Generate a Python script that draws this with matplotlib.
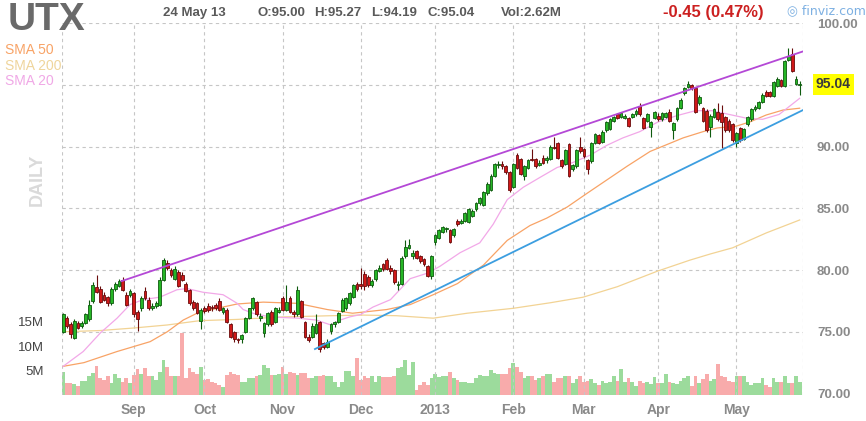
import matplotlib
matplotlib.use('Agg')
import matplotlib.pyplot as plt
import matplotlib.transforms as mtransforms
import numpy as np

plt.rcParams['font.family'] = ['Liberation Sans', 'DejaVu Sans']

# daily OHLC (7 Aug 2012 .. 24 May 2013)
opens = [
    75.0, 76.1, 75.6, 74.5, 75.7, 75.5, 75.7, 76.0, 77.5, 78.6,
    78.5, 78.0, 77.8, 77.3, 78.5, 78.7, 79.2, 78.0, 78.0, 78.1,
    76.6, 76.9, 78.3, 77.6, 76.9, 77.1, 77.2, 79.2, 80.6, 80.0,
    79.3, 79.8, 79.6, 78.9, 78.4, 77.4, 77.3, 75.9, 76.9, 77.1,
    77.0, 77.2, 77.5, 76.6, 76.8, 75.6, 75.0, 74.4, 74.4, 75.0,
    76.1, 76.9, 77.4, 76.1, 74.9, 75.6, 76.6, 75.8, 76.6, 77.7,
    76.8, 77.7, 76.6, 76.4, 77.5, 75.8, 74.6, 74.6, 74.9, 75.8,
    74.1, 73.8, 75.1, 75.6, 75.8, 76.7, 76.9, 77.3, 77.8, 78.9,
    78.9, 79.7, 79.4, 78.8, 79.3, 79.9, 80.5, 80.8, 80.2, 80.0,
    78.8, 78.9, 81.1, 81.8, 81.1, 81.5, 81.1, 80.9, 80.3, 79.5,
    82.3, 82.6, 83.1, 83.3, 83.2, 82.8, 84.0, 83.8, 84.0, 83.9,
    84.4, 84.9, 85.4, 85.3, 86.2, 86.5, 87.6, 88.5, 88.6, 88.4,
    87.9, 86.7, 89.3, 89.0, 87.6, 88.3, 89.0, 89.0, 88.5, 89.1,
    88.9, 89.0, 90.0, 90.3, 88.9, 88.6, 90.2, 88.2, 88.4, 90.0,
    89.8, 88.9, 88.8, 90.3, 90.9, 90.4, 91.3, 91.4, 92.1, 92.6,
    92.4, 92.3, 92.3, 92.4, 92.6, 93.3, 92.3, 92.1, 91.6, 92.3,
    92.5, 92.2, 92.4, 92.8, 91.3, 92.2, 93.1, 94.3, 94.8, 95.0,
    94.7, 93.5, 93.1, 92.9, 91.6, 92.4, 92.8, 92.7, 92.4, 92.1,
    91.8, 90.3, 91.5, 90.6, 91.8, 92.2, 93.0, 93.1, 93.6, 94.4,
    94.4, 94.1, 94.9, 95.4, 94.9, 97.0, 97.5, 95.1, 95.00,
]
highs = [
    76.5, 76.3, 75.8, 76.0, 75.9, 75.9, 76.5, 77.6, 79.0, 79.6,
    78.7, 78.2, 77.9, 78.6, 79.0, 79.3, 79.4, 78.2, 78.5, 78.2,
    76.8, 77.9, 78.6, 77.8, 77.3, 77.5, 79.4, 81.0, 80.8, 80.2,
    80.3, 80.0, 79.8, 79.0, 78.5, 77.6, 77.4, 76.9, 77.1, 77.3,
    77.2, 77.3, 77.7, 77.0, 76.9, 75.7, 75.1, 74.5, 74.8, 76.2,
    76.9, 77.8, 77.5, 76.5, 75.8, 76.6, 76.8, 77.0, 77.0, 77.9,
    78.8, 77.9, 76.8, 78.7, 77.6, 75.9, 74.8, 75.7, 76.4, 75.9,
    74.2, 74.4, 75.7, 75.9, 76.6, 77.7, 77.8, 78.2, 78.9, 79.0,
    80.2, 79.9, 79.6, 79.3, 80.1, 80.4, 80.6, 81.0, 80.4, 80.1,
    79.1, 81.1, 82.4, 82.5, 81.6, 81.6, 81.2, 81.0, 80.4, 81.2,
    82.9, 83.3, 83.6, 83.5, 83.3, 83.4, 84.1, 84.1, 84.7, 85.0,
    84.9, 85.5, 85.9, 86.4, 87.1, 87.8, 88.7, 88.8, 88.8, 88.5,
    88.0, 88.7, 89.5, 89.1, 88.5, 89.0, 89.8, 89.1, 88.9, 89.3,
    89.2, 90.1, 90.8, 90.4, 89.0, 89.8, 90.3, 88.6, 89.8, 90.8,
    89.9, 89.0, 90.4, 91.1, 91.0, 91.3, 92.1, 92.3, 92.5, 92.7,
    92.8, 92.6, 92.4, 92.7, 93.0, 93.5, 92.4, 92.7, 92.1, 92.9,
    92.7, 92.8, 92.8, 93.0, 92.0, 93.2, 93.9, 94.8, 95.3, 95.1,
    94.8, 94.2, 93.2, 93.0, 92.6, 93.1, 93.5, 93.4, 92.5, 92.2,
    91.9, 91.2, 91.6, 91.5, 92.5, 93.1, 93.4, 93.7, 94.3, 94.6,
    94.5, 95.3, 95.6, 95.5, 97.0, 98.0, 98.0, 95.7, 95.27,
]
lows = [
    74.9, 75.3, 74.5, 74.4, 75.2, 75.3, 75.6, 75.9, 77.3, 78.1,
    77.3, 77.5, 77.1, 77.2, 78.3, 78.6, 78.3, 77.1, 77.8, 76.2,
    75.1, 76.7, 77.6, 76.8, 76.8, 76.9, 77.1, 79.1, 80.0, 79.4,
    79.2, 78.6, 79.1, 78.2, 77.2, 76.8, 76.4, 75.2, 76.5, 76.6,
    76.7, 76.8, 76.7, 76.4, 75.7, 74.5, 74.2, 74.1, 74.1, 74.9,
    76.0, 76.8, 76.3, 75.9, 74.6, 75.5, 75.5, 75.7, 76.5, 76.7,
    76.7, 76.5, 76.2, 76.3, 76.1, 74.5, 74.2, 74.5, 74.8, 73.4,
    73.6, 73.7, 74.8, 75.4, 75.7, 76.6, 76.8, 77.2, 77.7, 78.3,
    78.5, 78.4, 78.6, 78.6, 79.1, 79.8, 79.9, 80.0, 79.7, 78.9,
    78.4, 78.8, 81.0, 81.7, 80.9, 80.9, 80.6, 80.3, 79.4, 79.3,
    82.0, 82.5, 83.0, 83.1, 82.2, 82.7, 83.6, 83.7, 83.9, 83.8,
    84.3, 84.8, 85.3, 85.2, 86.1, 86.4, 87.5, 88.3, 88.2, 87.8,
    86.3, 86.6, 88.2, 87.7, 87.3, 88.2, 88.8, 88.3, 88.4, 88.6,
    88.7, 88.9, 89.8, 89.0, 88.3, 88.5, 87.5, 88.0, 88.3, 89.5,
    89.1, 87.8, 88.7, 90.2, 90.2, 90.3, 91.2, 91.3, 92.0, 92.2,
    92.3, 92.2, 91.6, 92.3, 92.5, 92.5, 91.4, 92.0, 90.8, 92.2,
    92.1, 92.1, 92.3, 92.0, 90.6, 92.1, 93.0, 94.2, 94.7, 94.6,
    92.7, 93.4, 92.0, 91.2, 90.8, 92.3, 92.1, 89.9, 91.2, 91.2,
    90.4, 90.0, 90.4, 90.5, 91.7, 92.1, 92.9, 93.0, 93.5, 94.0,
    94.0, 94.0, 94.8, 94.8, 94.8, 96.9, 96.0, 95.0, 94.19,
]
closes = [
    76.4, 75.5, 74.8, 75.9, 75.3, 75.7, 76.4, 77.2, 78.8, 78.2,
    77.4, 77.6, 77.3, 78.5, 78.9, 79.1, 78.4, 77.2, 78.3, 76.4,
    76.0, 77.7, 77.7, 76.9, 77.1, 77.3, 79.2, 80.8, 80.2, 79.6,
    80.1, 78.7, 79.2, 78.3, 77.3, 76.9, 76.5, 76.8, 76.7, 76.8,
    76.9, 76.9, 76.8, 76.9, 75.8, 74.6, 74.4, 74.3, 74.7, 76.1,
    76.9, 77.7, 76.4, 76.3, 75.7, 76.5, 75.6, 76.9, 76.8, 76.8,
    77.4, 76.6, 76.4, 78.4, 76.2, 74.6, 74.3, 75.5, 75.6, 73.6,
    73.8, 74.2, 75.6, 75.8, 76.5, 77.6, 77.7, 78.1, 78.8, 78.5,
    78.7, 78.7, 78.8, 79.1, 80.0, 80.2, 80.1, 80.1, 79.9, 79.0,
    78.9, 81.0, 81.9, 82.0, 81.4, 81.0, 80.7, 80.5, 79.5, 81.1,
    82.8, 83.2, 83.5, 83.4, 82.3, 83.3, 83.7, 84.0, 84.6, 84.9,
    84.8, 85.4, 85.8, 86.3, 87.0, 87.6, 88.6, 88.6, 88.4, 87.9,
    86.5, 88.6, 88.3, 87.8, 88.4, 88.9, 88.9, 88.4, 88.7, 88.7,
    89.1, 90.0, 89.9, 89.1, 88.4, 89.7, 87.6, 88.5, 89.7, 89.6,
    89.2, 88.2, 90.3, 91.0, 90.3, 91.2, 92.0, 92.2, 92.4, 92.3,
    92.7, 92.5, 91.7, 92.6, 92.9, 92.6, 91.5, 92.6, 92.0, 92.8,
    92.2, 92.7, 92.7, 92.1, 91.9, 93.1, 93.8, 94.7, 95.1, 94.7,
    92.8, 94.0, 92.1, 91.3, 92.5, 93.0, 92.2, 92.0, 91.3, 91.3,
    90.5, 91.1, 90.5, 91.4, 92.4, 93.0, 93.2, 93.6, 94.2, 94.1,
    94.1, 95.2, 95.5, 94.9, 96.9, 97.3, 96.1, 95.49, 95.04,
]
# volume in millions
volumes = [
    4.8, 2.5, 2.4, 2.2, 1.8, 2.9, 2.9, 3.8, 4.6, 6.0,
    3.4, 3.1, 3.8, 2.4, 4.4, 3.4, 2.7, 3.4, 2.4, 4.1,
    5.3, 4.4, 5.5, 3.9, 3.8, 3.1, 4.8, 7.2, 5.8, 3.8,
    3.9, 3.8, 12.7, 3.4, 5.5, 4.8, 4.4, 5.7, 3.1, 3.2,
    2.7, 2.4, 2.1, 1.7, 4.1, 4.8, 4.3, 4.1, 2.7, 2.7,
    3.4, 3.4, 3.8, 4.1, 6.2, 5.5, 4.1, 4.1, 4.4, 5.8,
    4.4, 4.8, 4.6, 4.2, 4.5, 4.5, 3.4, 3.4, 3.8, 3.8,
    4.1, 3.8, 3.8, 2.6, 1.6, 2.7, 5.0, 5.0, 3.9, 7.5,
    3.1, 3.8, 3.4, 3.8, 2.7, 3.8, 3.6, 3.6, 3.6, 3.8,
    5.5, 5.8, 7.2, 4.1, 6.8, 1.0, 2.0, 2.7, 2.0, 3.4,
    4.3, 3.6, 3.8, 3.8, 4.8, 3.4, 3.1, 2.7, 2.7, 2.4,
    2.4, 3.4, 4.1, 3.8, 3.8, 5.1, 4.5, 4.3, 4.3, 4.3,
    5.5, 6.5, 5.8, 4.8, 3.4, 3.8, 3.8, 3.1, 3.4, 3.8,
    4.3, 4.3, 2.7, 3.4, 3.4, 3.8, 3.8, 2.4, 3.2, 3.8,
    2.7, 2.9, 3.2, 2.4, 2.1, 2.9, 2.5, 2.7, 3.8, 2.9,
    5.3, 2.7, 3.4, 2.7, 1.8, 2.9, 2.4, 2.7, 2.2, 3.6,
    2.5, 2.5, 4.3, 2.7, 2.4, 2.2, 2.9, 3.4, 3.8, 1.8,
    3.8, 2.5, 3.2, 4.3, 2.9, 3.2, 6.3, 4.0, 3.6, 2.9,
    2.7, 4.0, 3.8, 3.8, 2.7, 2.1, 2.4, 2.5, 3.4, 2.1,
    1.7, 3.4, 2.7, 2.7, 4.0, 2.4, 2.4, 4.0, 2.62,
]

# moving averages, read at a few points along each curve (day index, price)
sma20_idx = [0, 5.4, 10, 14.5, 18, 21.5, 26, 30.6, 33.3, 37.6, 43, 46.8, 48.4, 51, 55.6,
             63, 68, 72, 74.5, 77, 80, 83.3, 88, 93.3, 98, 101.3, 106.7, 112, 115.6, 119.4,
             123.7, 128.2, 132.8, 137, 141.7, 146.2, 150.5, 155, 160, 165, 170, 174.5, 179,
             183.6, 188, 192.5, 198]
sma20_val = [72.2, 73.4, 74.9, 76.1, 77.2, 77.6, 77.8, 78.4, 78.5, 78.2, 78.0, 77.3, 76.8, 76.5, 76.2,
             76.1, 75.95, 75.55, 75.95, 76.2, 76.4, 77.0, 77.6, 79.3, 79.75, 80.3, 81.4, 82.2, 83.7, 85.7,
             86.7, 87.5, 88.3, 88.7, 89.3, 90.1, 90.7, 91.2, 92.0, 92.5, 92.9, 92.9, 92.6,
             92.3, 92.2, 92.6, 93.9]
sma50_idx = [0, 5.6, 14.5, 23.4, 28, 32.3, 36, 41.4, 46.8, 53.8, 63, 71, 77.8, 87, 93.3, 99.5,
             106, 113, 119.4, 125.5, 130, 135.5, 140.8, 146.2, 151.6, 157.8, 166.7, 172, 175.8,
             181, 184.7, 189, 193.5, 198]
sma50_val = [72.2, 72.5, 73.4, 74.2, 75.0, 75.95, 76.5, 76.9, 77.25, 77.4, 77.3, 76.8, 76.5, 76.8, 77.2, 78.0,
             78.9, 80.4, 82.4, 83.6, 84.2, 85.1, 86.2, 87.3, 88.4, 89.6, 90.7, 91.2, 91.5,
             91.65, 92.0, 92.55, 92.95, 93.1]
sma200_idx = [0, 10, 18.8, 28, 36.8, 46.8, 59, 72, 80.7, 89.6, 99.5, 108.6, 121, 131, 139.8,
              149, 159.7, 168.5, 174, 180, 189, 198]
sma200_val = [75.0, 75.1, 75.3, 75.55, 75.9, 76.0, 76.2, 76.3, 76.35, 76.3, 76.1, 76.5, 76.9, 77.35, 77.8,
              78.65, 79.9, 80.8, 81.3, 81.8, 83.0, 84.05]

# hand drawn trend lines (day index, price)
upper_idx = [15.7, 198.9]
upper_val = [79.1, 97.7]
lower_idx = [67.7, 198.9]
lower_val = [73.6, 92.95]

month_pos = [19, 38, 59, 80, 100, 121, 140, 160, 181]
month_labels = ['Sep', 'Oct', 'Nov', 'Dec', '2013', 'Feb', 'Mar', 'Apr', 'May']
price_grid = [75, 80, 85, 90, 95, 100]
price_labels = [70, 75, 80, 85, 90, 100]
vol_ticks = [5, 10, 15]

GRID = '#c6c6c6'

fig = plt.figure(figsize=(8.66, 4.21), dpi=100)
ax = fig.add_axes([62 / 866, 1 - 395 / 421, 741 / 866, 372 / 421])
vax = ax.twinx()
ax.set_zorder(2)
vax.set_zorder(1)
ax.patch.set_visible(False)

x = np.arange(len(closes))
o = np.array(opens)
c = np.array(closes)
up = c >= o
face = np.where(up, '#26b626', '#d01818')
edge = np.where(up, '#0e5a0e', '#6a0c0c')
vcol = np.where(up, '#9cdb9c', '#f8abab')

# volume
vax.bar(x, volumes, width=1.0, color=vcol, linewidth=0)
vax.set_ylim(0, 76.4)

# grid
for p in price_grid:
    ax.axhline(p, color=GRID, lw=0.8, ls=(0, (3, 3)), zorder=1)
for m in month_pos:
    ax.axvline(m, color=GRID, lw=0.8, ls=(0, (3, 3)), zorder=1)
ax.set_xlim(-0.3, 198.9)
ax.set_ylim(69.88, 100)
for xe in ax.get_xlim():
    ax.axvline(xe, color=GRID, lw=0.8, ls=(0, (3, 3)), zorder=1)

# moving averages
ax.plot(sma200_idx, sma200_val, color='#f2d394', lw=0.9, zorder=2)
ax.plot(sma50_idx, sma50_val, color='#f8a366', lw=0.9, zorder=2)
ax.plot(sma20_idx, sma20_val, color='#f2a8e8', lw=0.9, zorder=2)

# candles
ax.vlines(x, lows, highs, colors=edge, lw=0.8, zorder=3)
body_lo = np.minimum(o, c)
body_h = np.maximum(np.abs(c - o), 0.07)
ax.bar(x, body_h, bottom=body_lo, width=0.75, color=face, edgecolor=edge, linewidth=0.6, zorder=4)

# trend lines
ax.plot(upper_idx, upper_val, color='#b448d6', lw=1.3, zorder=5)
ax.plot(lower_idx, lower_val, color='#3c9ee0', lw=1.3, zorder=5)

for a in (ax, vax):
    for s in a.spines.values():
        s.set_visible(False)

ax.set_xticks(month_pos, month_labels)
ax.tick_params(axis='x', length=0, pad=6, labelsize=10, labelcolor='#8a8a8a')
for t in ax.get_xticklabels():
    t.set_fontweight('bold')

ax.yaxis.tick_right()
ax.set_yticks(price_labels, [f'{p:.2f}' for p in price_labels])
ax.tick_params(axis='y', length=0, pad=10, labelsize=9.5, labelcolor='#8a8a8a')
for t in ax.get_yticklabels():
    t.set_fontweight('bold')

vax.yaxis.tick_left()
vax.set_yticks(vol_ticks, [f'{v}M' for v in vol_ticks])
vax.tick_params(axis='y', length=0, pad=13, labelsize=9.5, labelcolor='#444444')

# last price box
trans = mtransforms.blended_transform_factory(ax.transAxes, ax.transData)
ax.text(1 + 13 / 741, closes[-1], f'{closes[-1]:.2f}', transform=trans, ha='left', va='center',
        fontsize=10, fontweight='bold', color='#3a3a3a',
        bbox=dict(facecolor='#ffff00', edgecolor='none', pad=2.5))

# header
fig.text(8 / 866, 1 - 20 / 421, 'UTX', fontsize=28, fontweight='bold', color='#6a6a6a', va='center')
fig.text(5 / 866, 1 - 50 / 421, 'SMA 50', fontsize=10, color='#f8a366', va='center')
fig.text(5 / 866, 1 - 66 / 421, 'SMA 200', fontsize=10, color='#efd59c', va='center')
fig.text(5 / 866, 1 - 81 / 421, 'SMA 20', fontsize=10, color='#f0a8e6', va='center')
fig.text(37 / 866, 1 - 180 / 421, 'DAILY', fontsize=13, fontweight='bold', color='#dadada',
         rotation=90, ha='center', va='center')

hdr = dict(fontsize=9.5, fontweight='bold', color='#5a5a5a', va='center')
fig.text(163 / 866, 1 - 13 / 421, '24 May 13', **hdr)
fig.text(258 / 866, 1 - 13 / 421, f'O:{opens[-1]:.2f}', **hdr)
fig.text(314 / 866, 1 - 13 / 421, f'H:{highs[-1]:.2f}', **hdr)
fig.text(371 / 866, 1 - 13 / 421, f'L:{lows[-1]:.2f}', **hdr)
fig.text(428 / 866, 1 - 13 / 421, f'C:{closes[-1]:.2f}', **hdr)
fig.text(501 / 866, 1 - 13 / 421, 'Vol:2.62M', **hdr)
fig.text(663 / 866, 1 - 13 / 421, '-0.45 (0.47%)', fontsize=12, fontweight='bold',
         color='#cc2020', va='center')
fig.text(787 / 866, 1 - 11 / 421, '\u25ce finviz.com', fontsize=9, color='#7db0e2', va='center',
         family=['DejaVu Sans'])

fig.savefig('out.png', dpi=100, facecolor='white')
